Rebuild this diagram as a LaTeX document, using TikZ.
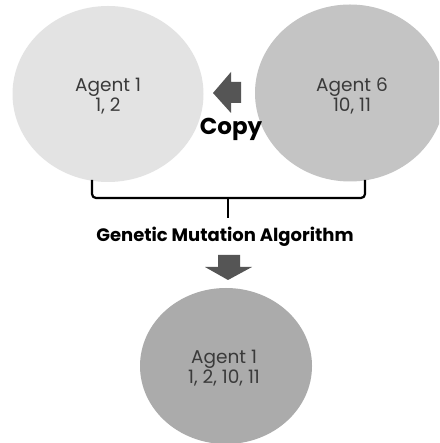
\documentclass[tikz,border=0pt]{standalone}
\usepackage{fontspec}
\setmainfont{Poppins}
\usetikzlibrary{shapes.geometric}
\definecolor{cA}{HTML}{E3E3E3}
\definecolor{cB}{HTML}{C4C4C4}
\definecolor{cC}{HTML}{ABABAB}
\definecolor{arr}{HTML}{555555}
\definecolor{txt}{HTML}{3A3A3A}
\tikzset{
  agent/.style={ellipse, inner sep=0pt, text=txt, align=center,
    font=\fontsize{18.5}{20}\selectfont},
  label/.style={inner sep=0pt, text=black, font=\bfseries\fontsize{18}{20}\selectfont},
  bracket/.style={draw=black, line width=2.2pt, rounded corners=4pt},
  arrowshape/.style={fill=arr}
}
\begin{document}
\begin{tikzpicture}[x=1pt,y=1pt]
\useasboundingbox (0,0) rectangle (439,443);
\fill[white] (0,0) rectangle (439,443);
\begin{scope}
\clip (0,0) rectangle (439,443);
\node[agent, fill=cA, minimum width=191pt, minimum height=176pt] (a1) at (108,349) {};
\node[agent, fill=cB, minimum width=190pt, minimum height=177pt] (a6) at (350,350) {};
\node[agent, fill=cC, minimum width=172pt, minimum height=156pt] (a1b) at (226,77) {};
\end{scope}
\node[agent] (t1) at (108,347) {Agent 1\\1, 2};
\node[agent] (t6) at (352,347) {Agent 6\\10, 11};
\node[agent] (tb) at (224,75) {Agent 1\\1, 2, 10, 11};
% copy arrow
\fill[arrowshape] (213,350) -- (231,371) -- (231,361) -- (241,361) -- (241,340) -- (231,340) -- (231,330) -- cycle;
\node[label, font=\bfseries\fontsize{23}{24}\selectfont] (copy) at (231,314) {Copy};
% bracket
\coordinate (bl) at (92,263);
\coordinate (br) at (365,263);
\coordinate (bm) at (228,245);
\coordinate (bt) at (228,225);
\draw[bracket] (bl) |- (bm) -| (br);
\draw[bracket] (bm) -- (bt);
\node[label] (gma) at (225,206) {Genetic Mutation Algorithm};
% down arrow
\fill[arrowshape] (218,188) -- (240,188) -- (240,176) -- (252,176) -- (228,163) -- (205,176) -- (218,176) -- cycle;
\end{tikzpicture}
\end{document}
